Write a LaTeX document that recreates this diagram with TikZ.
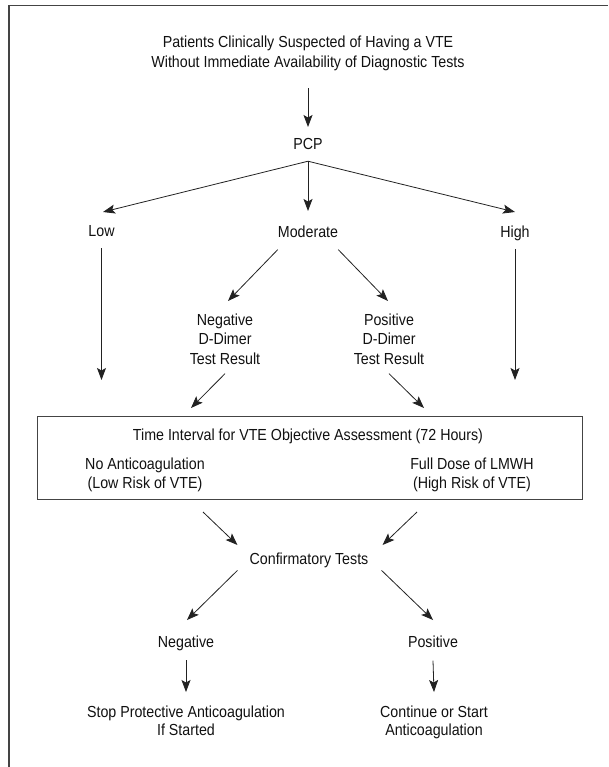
\documentclass[tikz,border=0pt]{standalone}
\usepackage{fontspec}
\setmainfont{Liberation Sans}[FakeStretch=0.89]
\usetikzlibrary{arrows.meta}
\definecolor{ink}{HTML}{111111}
\definecolor{linec}{HTML}{222222}
\definecolor{framec}{HTML}{444444}
\begin{document}
\begin{tikzpicture}[x=1pt,y=-1pt,
  txt/.style={anchor=north,inner sep=0pt,align=center,text=ink,font=\fontsize{16}{19.5}\selectfont},
  txttitle/.style={txt,font=\fontsize{16}{20}\selectfont},
  txtbox/.style={txt,font=\fontsize{16}{19}\selectfont},
  txtlow/.style={txt,font=\fontsize{16}{18}\selectfont},
  arr/.style={draw=linec,line width=0.8pt,-{Stealth[length=12pt,width=9pt,inset=2.5pt]}},
  framestyle/.style={draw=framec,line width=1.2pt},
  boxstyle/.style={draw=framec,line width=1pt,minimum width=545pt,minimum height=83pt,inner sep=0pt}]
\useasboundingbox (0,0) rectangle (608,767);
\draw[framestyle] (9,767) -- (9,5.5) -- (608,5.5);

\node[txttitle] (title) at (308,35.5) {Patients Clinically Suspected of Having a VTE\\Without Immediate Availability of Diagnostic Tests};
\node[txt] (pcp) at (308,138.5) {PCP};
\node[txt] (low) at (101.5,225.5) {Low};
\node[txt] (moderate) at (308,225.5) {Moderate};
\node[txt] (high) at (515,225.5) {High};
\node[txt] (neg) at (225,313.5) {Negative\\D-Dimer\\Test Result};
\node[txt] (pos) at (389,313.5) {Positive\\D-Dimer\\Test Result};
\node[boxstyle] (box) at (309.5,457.5) {};
\node[txt] (interval) at (308,428.5) {Time Interval for VTE Objective Assessment (72 Hours)};
\node[txtbox] (noanti) at (145,457.5) {No Anticoagulation\\(Low Risk of VTE)};
\node[txtbox] (fulldose) at (472,457.5) {Full Dose of LMWH\\(High Risk of VTE)};
\node[txt] (confirm) at (309,552.5) {Confirmatory Tests};
\node[txt] (negative) at (186,635.5) {Negative};
\node[txt] (positive) at (433,635.5) {Positive};
\node[txtlow] (stop) at (186,705.5) {Stop Protective Anticoagulation\\If Started};
\node[txtlow] (continue) at (434,705.5) {Continue or Start\\Anticoagulation};

\coordinate (lowEnd) at (101.5,380);
\coordinate (highEnd) at (515,380);
\coordinate (inL) at (191,408);
\coordinate (inR) at (424,408);
\coordinate (outL) at (203,512);
\coordinate (outR) at (417,512);

\draw[arr] ([yshift=-17.5pt]title.south) -- ([yshift=11.5pt]pcp.north);
\draw[arr] ([yshift=-11pt]pcp.south) -- ([xshift=1.5pt,yshift=13.5pt]low.north);
\draw[arr] ([yshift=-11pt]pcp.south) -- ([yshift=14.5pt]moderate.north);
\draw[arr] ([yshift=-11pt]pcp.south) -- ([yshift=13.5pt]high.north);
\draw[arr] ([yshift=-11pt]low.south) -- (lowEnd);
\draw[arr] ([yshift=-8pt]high.south) -- (highEnd);
\draw[arr] ([yshift=-12pt]moderate.south west) -- ([xshift=3pt,yshift=12.5pt]neg.north);
\draw[arr] ([yshift=-12pt]moderate.south east) -- ([xshift=-1pt,yshift=12.5pt]pos.north);
\draw[arr] ([yshift=-9pt]neg.south) -- (inL);
\draw[arr] ([yshift=-9pt]pos.south) -- (inR);
\draw[arr] (outL) -- ([xshift=-12pt,yshift=7.5pt]confirm.north west);
\draw[arr] (outR) -- ([xshift=14pt,yshift=7.5pt]confirm.north east);
\draw[arr] ([xshift=-12pt,yshift=-2.6pt]confirm.south west) -- ([xshift=1pt,yshift=15.5pt]negative.north);
\draw[arr] ([xshift=13pt,yshift=-2.6pt]confirm.south east) -- ([yshift=15.5pt]positive.north);
\draw[arr] ([yshift=-9.6pt]negative.south) -- ([yshift=13.5pt]stop.north);
\draw[arr] ([yshift=-13pt]positive.south) -- ([yshift=13.5pt]continue.north);
\end{tikzpicture}
\end{document}
